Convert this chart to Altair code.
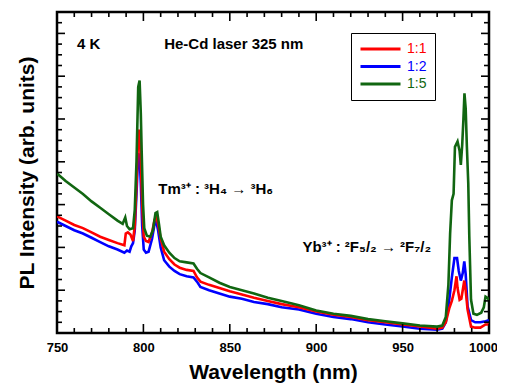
import altair as alt
import pandas as pd

FONT = "Liberation Sans"

# ---- data (arbitrary intensity units) ----
wl_15 = [750, 755, 760, 765, 770, 775, 780, 785, 788, 789.5, 790.5, 792, 794, 795, 796, 797, 797.8,
         798.5, 799, 799.8, 800.5, 802, 804, 805.5, 807, 808, 809, 810, 812, 815, 818, 821, 825, 829,
         831, 833, 838, 844, 850, 857, 864, 872, 880, 890, 900, 910, 920, 930, 940, 950, 960, 970,
         973, 975, 976.5, 977.5, 978.5, 979.5, 980.3, 981.8, 983, 983.7, 984.5, 985.2, 985.8, 986.5,
         987.2, 988, 988.6, 989.6, 991, 993, 995.5, 997, 998, 999, 1000]
int_15 = [14.9, 14.2, 13.6, 13.0, 12.3, 11.7, 11.1, 10.5, 10.2, 10.8, 10.0, 9.7, 9.8, 11.5, 16.0, 23.0, 23.6,
          20.5, 17.0, 12.0, 9.8, 9.1, 9.0, 9.6, 11.2, 11.3, 10.2, 9.0, 8.2, 7.5, 7.0, 6.7, 6.6, 6.5,
          6.0, 5.6, 5.2, 4.7, 4.3, 4.0, 3.7, 3.3, 3.0, 2.6, 2.1, 1.8, 1.6, 1.3, 1.1, 0.9, 0.7, 0.6,
          0.7, 1.5, 4.5, 9.3, 12.4, 13.0, 17.4, 17.9, 17.0, 15.7, 17.6, 20.0, 22.4, 21.0,
          17.4, 14.0, 9.0, 3.1, 1.8, 1.7, 1.9, 2.4, 3.4, 3.3, 3.1]

wl_11 = [750, 755, 760, 765, 770, 775, 780, 785, 789, 789.8, 791, 792.5, 794, 795, 796, 797, 797.8,
         798.5, 799.3, 800.2, 801.5, 803, 805, 806.5, 807.5, 808.5, 810, 812, 815, 818, 821, 825, 829,
         831, 833, 838, 844, 850, 857, 864, 872, 880, 890, 900, 910, 920, 930, 940, 950, 960, 970,
         973, 975, 977, 978.5, 980, 981.2, 981.8, 983, 984, 985.7, 986.5, 987.6, 989.6, 992, 995, 998, 1000]
int_11 = [10.9, 10.5, 10.1, 9.8, 9.4, 9.0, 8.7, 8.4, 8.2, 9.3, 9.4, 9.2, 8.6, 10.0, 14.0, 18.5, 19.0,
          16.0, 12.0, 9.0, 8.6, 8.5, 9.4, 10.6, 10.9, 10.2, 8.8, 7.6, 6.9, 6.4, 6.1, 5.9, 5.8,
          5.2, 4.8, 4.5, 4.2, 3.9, 3.6, 3.3, 3.0, 2.7, 2.4, 2.0, 1.7, 1.5, 1.2, 1.0, 0.8, 0.6, 0.4,
          0.5, 1.0, 2.3, 3.0, 4.0, 5.3, 4.2, 3.1, 3.2, 4.9, 4.0, 2.2, 0.6, 0.5, 0.5, 0.8, 0.8]

wl_12 = [750, 755, 760, 765, 770, 775, 780, 785, 789, 790.5, 792, 793, 794, 795, 796, 797, 797.8,
         798.5, 799.3, 800.2, 801.5, 803, 805, 806.5, 807.5, 808.5, 810, 812, 815, 818, 821, 825, 829,
         831, 833, 838, 844, 850, 857, 864, 872, 880, 890, 900, 910, 920, 930, 940, 950, 960, 970,
         973, 975, 977, 978.5, 980, 981.5, 982.5, 983.7, 984.8, 985.7, 986.5, 987.6, 989.6, 992, 995, 998, 1000]
int_12 = [10.4, 10.0, 9.6, 9.3, 8.9, 8.5, 8.1, 7.8, 7.5, 7.7, 7.6, 8.1, 8.4, 9.6, 13.0, 16.8, 16.5,
          14.0, 10.0, 7.8, 7.5, 7.6, 8.8, 10.2, 10.4, 9.6, 8.0, 6.8, 6.2, 5.8, 5.5, 5.3, 5.2,
          4.8, 4.3, 4.0, 3.7, 3.4, 3.2, 2.9, 2.7, 2.4, 2.2, 1.8, 1.5, 1.3, 1.0, 0.8, 0.6, 0.4, 0.3,
          0.4, 1.0, 3.1, 5.2, 7.0, 7.0, 5.8, 4.9, 5.6, 6.7, 5.5, 2.5, 1.2, 1.0, 1.0, 1.1, 1.2]

series_names = ["1:1", "1:2", "1:5"]
series_colors = ["#ff0000", "#0000ff", "#116611"]

x_major = [750, 800, 850, 900, 950, 1000]
x_minor = [v for v in range(750, 1001, 10) if v not in x_major]
y_major = list(range(0, 31, 4))
y_minor = [v for v in range(0, 31) if v not in y_major]

ann_text = ["4 K", "He-Cd laser 325 nm", "Tm³⁺ : ³H₄ → ³H₆", "Yb³⁺ : ²F₅/₂ → ²F₇/₂"]
ann_x = [761.6, 812, 808.6, 892]
ann_y = [27.0, 27.0, 13.5, 8.0]

# ---- tables ----
rows = []
for name, wl, iv in [("1:1", wl_11, int_11), ("1:2", wl_12, int_12), ("1:5", wl_15, int_15)]:
    for w, v in zip(wl, iv):
        rows.append({"wl": w, "I": v, "ratio": name})
df = pd.DataFrame(rows)
ann = pd.DataFrame({"wl": ann_x, "I": ann_y, "t": ann_text})

W, H = 432, 321
xs = alt.Scale(domain=[750, 1000], nice=False, zero=False)
ys = alt.Scale(domain=[0, 30], nice=False, zero=False)

color = alt.Color(
    "ratio:N",
    scale=alt.Scale(domain=series_names, range=series_colors),
    legend=alt.Legend(
        orient="none", legendX=294, legendY=21, title=None,
        symbolType="stroke", symbolSize=1600, symbolStrokeWidth=3, clipHeight=16,
        rowPadding=1.5, labelFont=FONT, labelFontSize=14, labelOffset=5,
        padding=8, strokeColor="black", fillColor="white",
        labelColor={"expr": "datum.value === '1:1' ? '#ff0000' : (datum.value === '1:2' ? '#0000ff' : '#116611')"},
    ),
)

# identical axis definitions in every layer so the shared axes merge into one
x_axis = alt.Axis(
    orient="bottom", title="Wavelength (nm)", values=x_major, ticks=False, tickSize=0,
    domain=False, grid=False, labelFont=FONT, labelFontWeight="bold", labelFontSize=13,
    labelPadding=8, labelColor="black", labelFlush=False, format="d",
    labelOffset={"condition": {"test": "datum.value == 1000", "value": -6}, "value": 0},
    titleFont=FONT, titleFontWeight="bold",
    titleFontSize=21, titlePadding=7, titleColor="black")
y_axis = alt.Axis(
    orient="left", title="PL Intensity (arb. units)", labels=False, ticks=False, tickSize=0,
    domain=False, grid=False, titleFont=FONT, titleFontWeight="bold", titleFontSize=21,
    titlePadding=20, titleColor="black")

x_enc = alt.X("wl:Q", scale=xs, axis=x_axis, title="Wavelength (nm)")
y_enc = alt.Y("I:Q", scale=ys, axis=y_axis, title="PL Intensity (arb. units)")


def line_layer(name):
    return alt.Chart(df).transform_filter(alt.datum.ratio == name).mark_line(
        strokeWidth=2.6, clip=True).encode(x=x_enc, y=y_enc, color=color)


# inward tick marks on all four sides, positioned through the shared scales
def xticks(values, length):
    d = pd.DataFrame({"wl": values})
    base = alt.Chart(d).mark_rule(color="black", strokeWidth=1.6)
    bottom = base.encode(x=x_enc, y=alt.value(H), y2=alt.value(H - length))
    top = base.encode(x=x_enc, y=alt.value(0), y2=alt.value(length))
    return [bottom, top]


def yticks(values, length):
    d = pd.DataFrame({"I": values})
    base = alt.Chart(d).mark_rule(color="black", strokeWidth=1.6)
    left = base.encode(y=y_enc, x=alt.value(0), x2=alt.value(length))
    right = base.encode(y=y_enc, x=alt.value(W), x2=alt.value(W - length))
    return [left, right]


tick_layers = (xticks(x_minor, 5) + xticks(x_major, 9) +
               yticks(y_minor, 5) + yticks(y_major, 8))

text = alt.Chart(ann).mark_text(align="left", baseline="middle", font=FONT, fontWeight="bold",
                                fontSize=15, color="black").encode(
    x=x_enc, y=y_enc, text="t:N")

chart = alt.layer(
    line_layer("1:2"), line_layer("1:1"), line_layer("1:5"),
    *tick_layers, text
).properties(
    width=W, height=H,
    autosize=alt.AutoSizeParams(type="none"),
    padding={"left": 49, "top": 4, "right": 8, "bottom": 50},
    background="white",
).configure_view(stroke="black", strokeWidth=2.5)

chart.save("out.html", embed_options={"renderer": "svg", "actions": False})
